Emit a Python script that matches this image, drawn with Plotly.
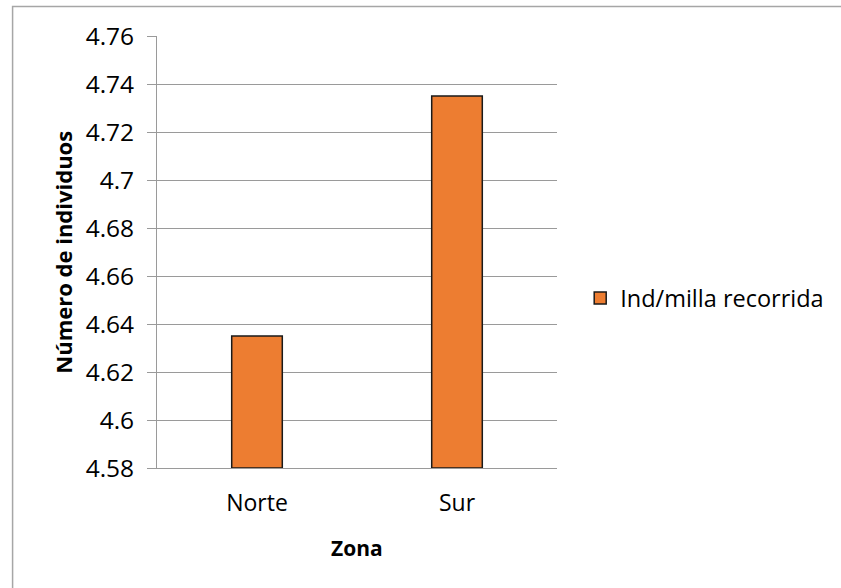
import plotly.graph_objects as go

# Zone categories and individuals per mile travelled
zonas = ["Norte", "Sur"]
ind_por_milla = [4.635, 4.735]
serie = "Ind/milla recorrida"

# Y-axis ticks
y_ticks = [4.58, 4.60, 4.62, 4.64, 4.66, 4.68, 4.70, 4.72, 4.74, 4.76]
y_tick_labels = ["4.58", "4.6", "4.62", "4.64", "4.66", "4.68", "4.7", "4.72", "4.74", "4.76"]

FONT = "Open Sans"
GRID = "#9a9a9a"

fig = go.Figure()
fig.add_trace(go.Bar(
    x=zonas,
    y=[v - y_ticks[0] for v in ind_por_milla],
    base=y_ticks[0],
    name=serie,
    marker=dict(color="#ED7D31", line=dict(color="#1a1a1a", width=1.5)),
    showlegend=True,
))

fig.update_layout(
    width=841,
    height=588,
    paper_bgcolor="white",
    plot_bgcolor="white",
    margin=dict(l=157, r=281, t=36, b=120, pad=0),
    bargap=0.747,
    font=dict(family=FONT, size=24, color="#000000"),
    xaxis=dict(
        showline=True, linecolor=GRID, linewidth=1,
        showgrid=False, ticks="", ticklabelstandoff=14,
        tickfont=dict(family=FONT, size=23),
    ),
    yaxis=dict(
        range=[y_ticks[0], y_ticks[-1]],
        tickvals=y_ticks, ticktext=y_tick_labels,
        showline=True, linecolor=GRID, linewidth=1,
        showgrid=True, gridcolor=GRID, gridwidth=1,
        ticks="outside", ticklen=9, tickcolor=GRID,
        ticklabelstandoff=8,
        tickfont=dict(family=FONT, size=24.5),
        zeroline=False,
    ),
    legend=dict(
        x=1.058, y=0.393, xanchor="left", yanchor="middle",
        font=dict(family=FONT, size=23.5),
        bgcolor="rgba(0,0,0,0)",
    ),
    annotations=[
        dict(text="<b>Número de individuos</b>", textangle=-90,
             xref="paper", yref="paper", x=(62 - 157) / 403, y=(468 - 252) / 432,
             xanchor="center", yanchor="middle", showarrow=False,
             font=dict(family=FONT, size=22)),
        dict(text="<b>Zona</b>",
             xref="paper", yref="paper", x=(358 - 157) / 403, y=(468 - 548) / 432,
             xanchor="center", yanchor="middle", showarrow=False,
             font=dict(family=FONT, size=21)),
    ],
    shapes=[
        # chart-area border
        dict(type="rect", xref="paper", yref="paper",
             x0=(11.5 - 157) / 403, x1=(860 - 157) / 403,
             y0=(468 - 620) / 432, y1=(468 - 6.5) / 432,
             line=dict(color="#a6a6a6", width=1.5), fillcolor="rgba(0,0,0,0)",
             layer="below"),
    ],
)

fig.write_html("out.html")
